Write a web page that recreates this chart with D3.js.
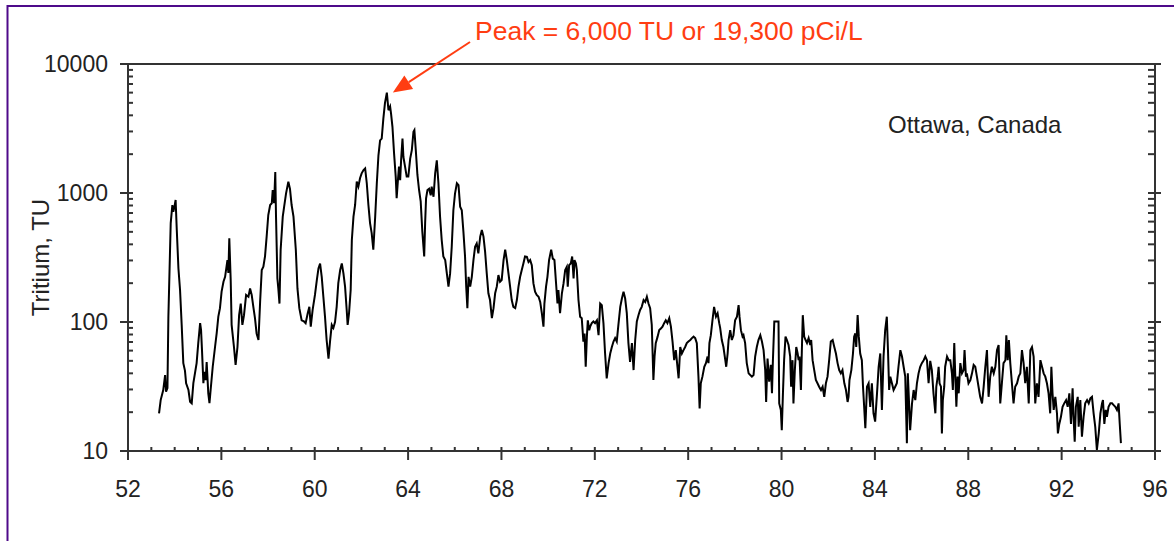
<!DOCTYPE html>
<html><head><meta charset="utf-8">
<script src="https://cdn.jsdelivr.net/npm/d3@7/dist/d3.min.js"></script>
<style>
html,body{margin:0;padding:0;background:#fff;}
svg{display:block;}
text{font-family:"Liberation Sans",Arial,Helvetica,sans-serif;}
</style></head>
<body>
<svg id="chart" width="1174" height="541"></svg>
<script>
// ---- data ----
const years = [53.33,53.40,53.51,53.59,53.63,53.69,53.73,53.83,53.90,53.94,53.99,54.04,54.09,54.16,54.23,54.30,54.37,54.44,54.49,54.59,54.66,54.73,54.80,54.87,54.94,55.01,55.09,55.13,55.17,55.23,55.27,55.33,55.37,55.44,55.49,55.54,55.63,55.73,55.80,55.87,55.94,56.01,56.09,56.16,56.26,56.30,56.34,56.40,56.44,56.54,56.61,56.69,56.76,56.83,56.90,56.97,57.06,57.16,57.23,57.30,57.37,57.44,57.51,57.59,57.66,57.73,57.80,57.87,57.94,58.01,58.09,58.16,58.20,58.26,58.31,58.34,58.40,58.44,58.49,58.54,58.63,58.69,58.77,58.87,58.94,59.01,59.09,59.19,59.26,59.34,59.44,59.54,59.61,59.70,59.77,59.83,59.91,60.01,60.09,60.16,60.23,60.30,60.37,60.44,60.51,60.59,60.66,60.73,60.80,60.87,60.94,61.01,61.09,61.16,61.23,61.30,61.37,61.41,61.47,61.54,61.59,61.66,61.73,61.80,61.87,61.94,62.01,62.09,62.16,62.23,62.30,62.37,62.44,62.51,62.59,62.66,62.73,62.80,62.87,62.94,63.01,63.09,63.16,63.23,63.27,63.33,63.40,63.47,63.51,63.56,63.61,63.66,63.70,63.76,63.80,63.87,63.94,64.01,64.09,64.16,64.23,64.27,64.33,64.40,64.47,64.54,64.61,64.69,64.73,64.77,64.83,64.90,64.97,65.01,65.09,65.16,65.23,65.30,65.37,65.44,65.51,65.59,65.66,65.73,65.80,65.87,65.94,66.01,66.09,66.16,66.23,66.30,66.37,66.44,66.49,66.54,66.59,66.66,66.73,66.80,66.87,66.94,67.01,67.09,67.16,67.23,67.30,67.37,67.44,67.51,67.59,67.66,67.73,67.80,67.87,67.94,68.01,68.09,68.16,68.23,68.30,68.37,68.44,68.51,68.59,68.66,68.73,68.80,68.87,68.94,69.01,69.09,69.16,69.23,69.30,69.37,69.44,69.51,69.59,69.66,69.73,69.80,69.84,69.91,69.97,70.04,70.13,70.20,70.27,70.34,70.40,70.44,70.51,70.59,70.66,70.73,70.80,70.84,70.90,70.97,71.03,71.09,71.13,71.19,71.23,71.30,71.37,71.44,71.51,71.56,71.61,71.66,71.70,71.76,71.80,71.87,71.94,72.01,72.09,72.16,72.23,72.30,72.37,72.44,72.51,72.59,72.66,72.73,72.80,72.87,72.94,73.01,73.09,73.16,73.23,73.30,73.37,73.44,73.51,73.59,73.66,73.73,73.80,73.87,73.94,74.01,74.09,74.16,74.23,74.30,74.37,74.44,74.51,74.56,74.61,74.69,74.76,74.83,74.90,74.97,75.04,75.11,75.19,75.26,75.33,75.40,75.47,75.54,75.59,75.66,75.73,75.80,75.87,75.94,76.01,76.09,76.16,76.23,76.30,76.37,76.44,76.49,76.54,76.61,76.69,76.76,76.83,76.87,76.91,76.97,77.04,77.11,77.19,77.26,77.33,77.37,77.44,77.51,77.59,77.63,77.69,77.73,77.80,77.87,77.94,78.01,78.09,78.16,78.20,78.26,78.33,78.37,78.44,78.51,78.59,78.66,78.73,78.80,78.87,78.94,79.01,79.09,79.16,79.23,79.30,79.34,79.40,79.47,79.54,79.59,79.63,79.69,79.80,79.87,79.90,79.97,80.01,80.06,80.11,80.17,80.23,80.30,80.37,80.41,80.47,80.51,80.57,80.63,80.69,80.73,80.77,80.83,80.87,80.91,80.97,81.03,81.09,81.16,81.23,81.27,81.33,81.40,81.47,81.54,81.61,81.69,81.76,81.83,81.90,81.97,82.04,82.11,82.19,82.26,82.33,82.40,82.47,82.54,82.61,82.69,82.76,82.83,82.87,82.91,82.99,83.06,83.11,83.16,83.20,83.26,83.31,83.37,83.44,83.49,83.54,83.59,83.66,83.73,83.80,83.87,83.94,84.01,84.09,84.16,84.23,84.30,84.37,84.44,84.51,84.56,84.61,84.66,84.73,84.80,84.87,84.94,85.01,85.09,85.16,85.23,85.30,85.37,85.41,85.47,85.51,85.59,85.66,85.73,85.80,85.87,85.94,86.01,86.09,86.16,86.23,86.30,86.37,86.44,86.51,86.59,86.63,86.69,86.73,86.77,86.83,86.87,86.91,86.97,87.01,87.09,87.16,87.23,87.30,87.34,87.40,87.44,87.49,87.54,87.59,87.66,87.73,87.80,87.84,87.90,87.94,88.01,88.09,88.16,88.23,88.30,88.37,88.44,88.51,88.59,88.66,88.73,88.80,88.87,88.94,89.01,89.09,89.16,89.23,89.30,89.37,89.44,89.51,89.59,89.63,89.69,89.74,89.80,89.87,89.94,90.01,90.09,90.16,90.23,90.30,90.37,90.44,90.51,90.59,90.66,90.73,90.80,90.87,90.94,91.01,91.09,91.16,91.23,91.30,91.37,91.44,91.51,91.56,91.61,91.66,91.73,91.80,91.84,91.90,91.97,92.04,92.11,92.19,92.26,92.33,92.40,92.47,92.51,92.56,92.61,92.69,92.73,92.80,92.87,92.94,93.01,93.09,93.16,93.23,93.30,93.37,93.44,93.51,93.59,93.66,93.73,93.77,93.83,93.89,93.94,94.01,94.09,94.16,94.23,94.30,94.37,94.44,94.49,94.54];
const tritium = [19.6,24.8,29.7,38.8,28.8,30.7,110,585,807,716,783,883,516,261,177,95,48,42,33.5,29.7,24.1,23.4,33.6,40.2,48,68.6,98,86.6,60.5,33.6,41,35.5,49,28,23.5,29.7,45,64.3,82,110,128,172,205,224,302,240,446,211,95,64,46.5,64,113,139,95,113,162,157,182,162,131,107,81.5,72.5,143,253,268,322,459,675,807,832,1055,834,1457,675,218,182,139,363,655,783,990,1225,1075,807,655,363,182,128,103,101,98,117,131,92,124,162,211,260,284,224,157,110,72.5,52,72,95,90,100,131,200,253,284,238,188,124,95,117,177,432,655,807,1225,1120,1300,1420,1505,1550,1190,807,585,488,363,655,1190,1960,2560,2640,3770,4990,6000,4380,4690,4130,3260,2020,1340,910,1225,1600,1255,1790,2640,1900,1600,1340,1340,1850,2150,2980,3070,2150,1380,1055,860,502,322,585,910,1055,1080,960,1120,935,1420,1790,1190,655,432,322,302,238,188,238,383,735,990,1190,1150,783,735,502,322,188,128,224,188,224,302,383,406,341,459,516,459,350,238,167,148,107,128,167,188,231,205,211,302,363,302,238,188,148,131,128,148,188,224,253,284,322,320,292,302,276,199,172,162,157,143,117,92,139,188,224,302,363,310,302,199,139,177,117,167,199,253,268,188,276,284,322,218,302,284,253,148,110,107,70.5,81.5,45,77,103,86.5,92,98,101,98,103,79,139,135,98,57,36.6,48,57,64,70.5,75,70.5,95,131,152,172,152,117,68.6,49,68.6,42.4,72.5,101,113,124,131,148,143,157,139,128,95,35.5,54,68.6,77,86.5,89,92,98,103,98,107,92,70.5,50.6,60.5,45,36.6,64,57,60.5,64,68.6,70.5,72.5,75,77,75,68.6,37.7,21.4,33.5,37.7,45,48,54,48,68.6,79,103,131,110,117,98,90,72.5,64,50.6,45,57,72.5,86.5,72.5,79,103,110,135,110,86.5,77,79,68.6,48,40,38.8,37.7,38.8,54,64,72.5,79,70.5,60.5,42.4,24,52,34.5,46.5,28,50.6,101,101,101,23.4,20.8,14.5,28,50.6,77,72.5,66.3,54,31.5,50.6,23.4,42.4,64,57,50.6,54,29.7,60.5,113,77,72.5,68.6,75,66.3,72.5,50.6,42.4,35.5,33.5,31.5,29.7,31.5,26.3,33.5,37.7,50.6,70.5,72.5,64,57,48,42.4,40,42.4,33.5,29.7,24,26.3,35.5,42.4,57,77,81.5,64,113,77,57,50.6,31.5,22,15,31.5,33.5,22,33.5,19.6,16.9,28,45,57,20.8,54,86.5,110,60.5,29.7,37.7,33.5,29.7,31.5,33.5,45,60.5,54,45,37.7,11.5,40,22,14.5,23.4,29.7,24.8,33.5,40,45,48,50.6,54,50.6,33.5,50,42.4,28,19.6,31.5,37.7,45,33.5,31.5,13.7,24.8,31.5,45,54,50.6,50.6,40,29.7,68.6,40,22,37.7,28,48,40,42.4,60.5,37.7,40,33.5,35.5,40,46.5,45,37.7,31.5,26.3,23.4,31.5,45,60.5,26.3,37.7,45,40,45,60.5,66.3,23.4,33.5,48,50.6,79,50.6,72.5,48,33.5,23.4,31.5,33.5,37.7,40,60.5,48,33.5,45,23.4,60.5,64,54,23.4,33.5,26.3,50.6,45,40,37.7,33.5,28,19.6,45,28,20.8,26.3,19.6,13.7,16.2,18.4,22,23.4,24.8,22,28,16.2,30.6,18.4,11.8,22,26.3,15.4,24.8,12.9,18.4,23.4,24.8,23.4,25.6,26.3,19.6,15.4,10.2,13.7,19.6,23.4,24.8,16.2,20.8,18.4,22,23.4,23.4,22.7,22,20.8,23.4,16.2,11.5];
const xTickLabels = [52,56,60,64,68,72,76,80,84,88,92,96];
const yTickLabels = [10,100,1000,10000];
const yAxisTitle = "Tritium, TU";
const siteLabel = "Ottawa, Canada";
const peakLabel = "Peak = 6,000 TU or 19,300 pCi/L";

// ---- layout ----
const svg = d3.select("#chart");
const plotL = 128, plotR = 1155, plotT = 64, plotB = 451;
const x = d3.scaleLinear().domain([52, 96]).range([plotL, plotR]);
const y = d3.scaleLog().domain([10, 10000]).range([plotB, plotT]);
const axisColor = "#333";
const textColor = "#222";
const red = "#ff3d12";

const n = Math.min(years.length, tritium.length);

// outer purple frame (right/bottom edges lie beyond the picture)
svg.append("rect").attr("x", 7.5).attr("y", 6).attr("width", 1200).attr("height", 600)
  .attr("fill", "none").attr("stroke", "#4e0a8a").attr("stroke-width", 2);

// data line
const data = d3.range(n).map(i => ({yr: years[i], v: tritium[i]}));
svg.append("path").datum(data)
  .attr("fill", "none").attr("stroke", "#000").attr("stroke-width", 2)
  .attr("stroke-linejoin", "miter")
  .attr("d", d3.line().x(d => x(d.yr)).y(d => y(d.v)));

// plot frame
svg.append("rect").attr("x", plotL).attr("y", plotT).attr("width", plotR - plotL).attr("height", plotB - plotT)
  .attr("fill", "none").attr("stroke", axisColor).attr("stroke-width", 2);

const g = svg.append("g").attr("stroke", axisColor).attr("stroke-width", 2);
// x ticks: minor every year (inside), major every 4 (crossing)
d3.range(53, 96).forEach(v => {
  if (xTickLabels.includes(v)) return;
  g.append("line").attr("x1", x(v)).attr("x2", x(v)).attr("y1", plotB - 4).attr("y2", plotB);
});
xTickLabels.forEach(v => {
  g.append("line").attr("x1", x(v)).attr("x2", x(v)).attr("y1", plotB - 4).attr("y2", plotB + 9);
});
// y ticks
yTickLabels.forEach(v => {
  g.append("line").attr("x1", plotL - 8).attr("x2", plotL + 5).attr("y1", y(v)).attr("y2", y(v));
  g.append("line").attr("x1", plotR - 7).attr("x2", plotR + 6).attr("y1", y(v)).attr("y2", y(v));
});
[10, 100, 1000].forEach(dec => {
  d3.range(2, 10).forEach(m => {
    const v = dec * m;
    g.append("line").attr("x1", plotL).attr("x2", plotL + 5).attr("y1", y(v)).attr("y2", y(v));
    g.append("line").attr("x1", plotR - 7).attr("x2", plotR).attr("y1", y(v)).attr("y2", y(v));
  });
});

// tick labels
svg.selectAll(".xl").data(xTickLabels).enter().append("text")
  .attr("x", d => x(d)).attr("y", plotB + 46).attr("text-anchor", "middle")
  .attr("font-size", 23).attr("fill", textColor).text(d => d);
svg.selectAll(".yl").data(yTickLabels).enter().append("text")
  .attr("x", plotL - 20).attr("y", d => y(d) + 8).attr("text-anchor", "end")
  .attr("font-size", 23).attr("fill", textColor).text(d => d);

// axis title
svg.append("text").attr("transform", `translate(49,${(plotT + plotB) / 2}) rotate(-90)`)
  .attr("text-anchor", "middle").attr("font-size", 24).attr("fill", textColor).text(yAxisTitle);

// site label
svg.append("text").attr("x", 888).attr("y", 133).attr("font-size", 24)
  .attr("fill", textColor).text(siteLabel);

// peak annotation
const peakIdx = d3.maxIndex(tritium);
const px = x(years[peakIdx]) + 6, py = y(tritium[peakIdx]);
svg.append("text").attr("x", 475).attr("y", 40).attr("font-size", 26.5)
  .attr("fill", red).text(peakLabel);
const sx = 470, sy = 42;
const ang = Math.atan2(py - sy, px - sx);
const headLen = 19, headW = 8;
const bx = px - headLen * Math.cos(ang), by = py - headLen * Math.sin(ang);
svg.append("line").attr("x1", sx).attr("y1", sy).attr("x2", bx).attr("y2", by)
  .attr("stroke", red).attr("stroke-width", 2);
const nx = -Math.sin(ang), ny = Math.cos(ang);
svg.append("path")
  .attr("d", `M${px},${py}L${bx + nx * headW},${by + ny * headW}L${bx - nx * headW},${by - ny * headW}Z`)
  .attr("fill", red);
</script>
</body></html>
